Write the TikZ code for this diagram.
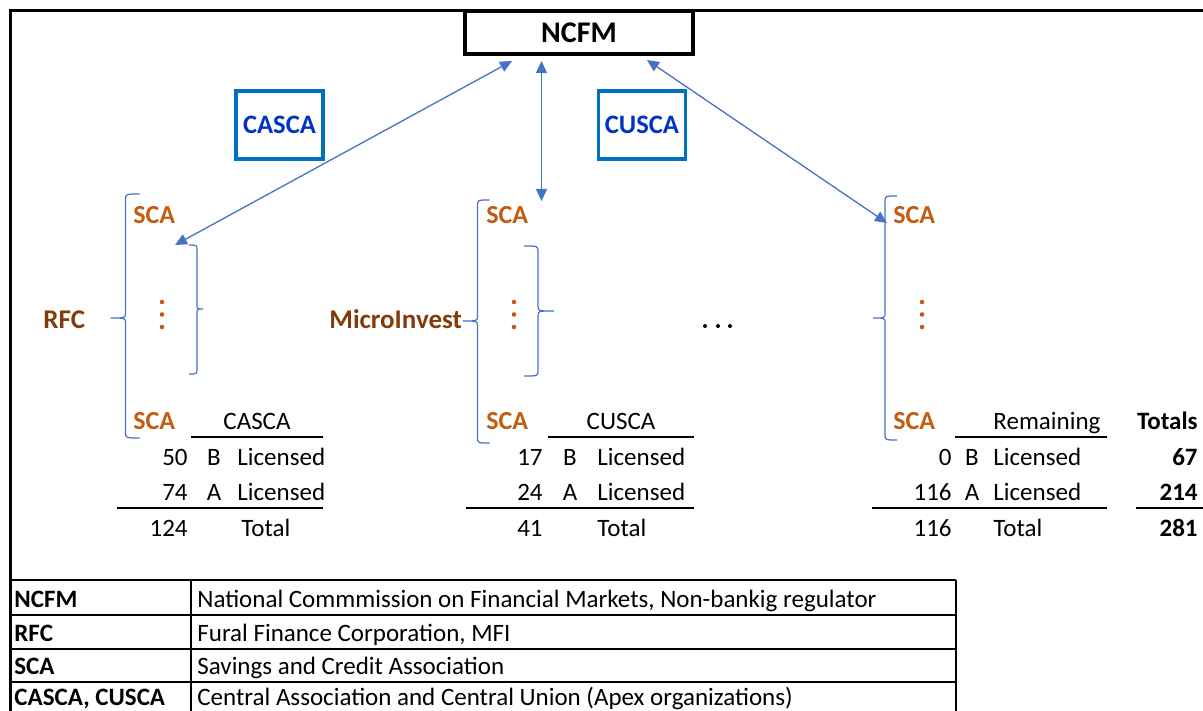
\documentclass[tikz,border=0pt]{standalone}
\usepackage{fontspec}
\setmainfont{Carlito}
\usetikzlibrary{arrows.meta}
\definecolor{linkblue}{RGB}{68,114,196}
\definecolor{boxblue}{RGB}{0,112,192}
\definecolor{apexblue}{RGB}{0,51,204}
\definecolor{scaorange}{RGB}{197,90,17}
\definecolor{mfibrown}{RGB}{132,60,12}
\def\curlybrace(#1,#2,#3,#4)(#5,#6){\draw[brace] ({#1+#5},#2) .. controls (#1,#2) .. (#1,{#2+6}) -- (#1,{#3-5}) .. controls (#1,#3) .. ({#1-#6},#3) .. controls (#1,#3) .. (#1,{#3+5}) -- (#1,{#4-6}) .. controls (#1,#4) .. ({#1+#5},#4);}
\tikzset{
	link/.style={draw=linkblue, line width=0.65pt, {Triangle[length=6pt,width=5.5pt]}-{Triangle[length=6pt,width=5.5pt]}},
	brace/.style={draw=linkblue, line width=0.6pt},
	apex/.style={draw=boxblue, line width=1.6pt, text=apexblue, font=\fontsize{13.3}{15}\selectfont\bfseries, minimum width=43.5pt, minimum height=34pt, inner sep=0},
	sca/.style={text=scaorange, font=\fontsize{13}{15}\selectfont\bfseries, inner sep=0, anchor=base west},
	mfi/.style={text=mfibrown, font=\fontsize{13.5}{15}\selectfont\bfseries, inner sep=0, anchor=base west},
	num/.style={font=\fontsize{12.5}{15}\selectfont, inner sep=0, anchor=base east},
	txt/.style={font=\fontsize{12.5}{15}\selectfont, inner sep=0, anchor=base west},
	ctr/.style={font=\fontsize{12.5}{15}\selectfont, inner sep=0, anchor=base},
	rule/.style={line width=1.1pt},
}
\begin{document}
\begin{tikzpicture}[x=0.5pt, y=-0.5pt]
			%%%%% START %%%%%
			\useasboundingbox (0,0) rectangle (1203,711);
			\draw[line width=1.5pt] (1203,11) -- (10,11) -- (10,711);
			
			\node[draw, line width=1.75pt, minimum width=114pt, minimum height=21.5pt, inner sep=0, font=\fontsize{15}{17}\selectfont\bfseries] (ncfm) at (579,32.5) {NCFM};
			\node[apex] (casca) at (279.5,125) {CASCA};
			\node[apex] (cusca) at (642,125) {CUSCA};
			
			% arrow ends
			\coordinate (ncfmL) at (512,61);
			\coordinate (ncfmM) at (541.5,61);
			\coordinate (ncfmR) at (647,60);
			\coordinate (rfcIn) at (175,245);
			\coordinate (micIn) at (541.5,201);
			\coordinate (remIn) at (887,223);
			\draw[link] (ncfmL) -- (rfcIn);
			\draw[link] (ncfmM) -- (micIn);
			\draw[link] (ncfmR) -- (remIn);
			
			% groups of SCA
			\node[mfi] (rfc) at (43,328) {RFC};
			\node[mfi] (micro) at (329,328) {MicroInvest};
			\node[sca] (sca1a) at (133,224) {SCA};
			\node[sca] (sca1b) at (133,429) {SCA};
			\node[sca] (sca2a) at (486,224) {SCA};
			\node[sca] (sca2b) at (486,429) {SCA};
			\node[sca] (sca3a) at (893,224) {SCA};
			\node[sca] (sca3b) at (893,429) {SCA};
			
			\curlybrace(125.5,194,318,438)(14,15)
			\curlybrace(197,245,309,374)(-8,-6)
			\curlybrace(477.5,200,321,443)(12,15)
			\curlybrace(538,246,311,376)(-14,-16)
			\curlybrace(885,196,318,440)(12,12)
			
			\foreach \x in {162,514,922}
				\foreach \y in {302,314.5,327}
					\fill[scaorange] (\x,\y) circle (2.3);
			\foreach \x in {705,718,730}
				\fill (\x,326) circle (2);
			
			% CASCA table
			\node[ctr] (h1) at (257,429) {CASCA};
			\node[num] (b1) at (188,465) {50};
			\node[ctr] at (214,465) {B};
			\node[txt] at (237,465) {Licensed};
			\node[num] (a1) at (188,500) {74};
			\node[ctr] at (214,500) {A};
			\node[txt] at (237,500) {Licensed};
			\node[num] (t1) at (188,536) {124};
			\node[txt] at (241,536) {Total};
			\draw[rule] (191,437) -- (323,437);
			\draw[rule] (117,508) -- (323,508);
			
			% CUSCA table
			\node[ctr] (h2) at (621,429) {CUSCA};
			\node[num] (b2) at (543,465) {17};
			\node[ctr] at (570,465) {B};
			\node[txt] at (597,465) {Licensed};
			\node[num] (a2) at (543,500) {24};
			\node[ctr] at (570,500) {A};
			\node[txt] at (597,500) {Licensed};
			\node[num] (t2) at (543,536) {41};
			\node[txt] at (597,536) {Total};
			\draw[rule] (548,437) -- (694,437);
			\draw[rule] (466,508) -- (694,508);
			
			% remaining table
			\node[txt] (h3) at (993,429) {Remaining};
			\node[num] (b3) at (952,465) {0};
			\node[ctr] at (972,465) {B};
			\node[txt] at (993,465) {Licensed};
			\node[num] (a3) at (952,500) {116};
			\node[ctr] at (972,500) {A};
			\node[txt] at (993,500) {Licensed};
			\node[num] (t3) at (952,536) {116};
			\node[txt] at (993,536) {Total};
			\draw[rule] (955,437) -- (1107,437);
			\draw[rule] (872,508) -- (1107,508);
			
			\node[num, font=\fontsize{12.5}{15}\selectfont\bfseries] (h4) at (1198,429) {Totals};
			\node[num, font=\fontsize{12.5}{15}\selectfont\bfseries] (b4) at (1198,465) {67};
			\node[num, font=\fontsize{12.5}{15}\selectfont\bfseries] (a4) at (1198,500) {214};
			\node[num, font=\fontsize{12.5}{15}\selectfont\bfseries] (t4) at (1198,536) {281};
			\draw[rule] (1136,508) -- (1203,508);
			
			% legend
			\draw[rule] (10,580) -- (956,580);
			\draw[rule] (10,615) -- (956,615);
			\draw[rule] (10,649) -- (956,649);
			\draw[rule] (10,682) -- (956,682);
			\draw[rule] (191,580) -- (191,711);
			\draw[rule] (956,580) -- (956,711);
			
			\node[txt, font=\fontsize{12.5}{15}\selectfont\bfseries] at (14,607) {NCFM};
			\node[txt] at (197,607) {National Commmission on Financial Markets, Non-bankig regulator};
			\node[txt, font=\fontsize{12.5}{15}\selectfont\bfseries] at (14,641) {RFC};
			\node[txt] at (197,641) {Fural Finance Corporation, MFI};
			\node[txt, font=\fontsize{12.5}{15}\selectfont\bfseries] at (14,674) {SCA};
			\node[txt] at (197,674) {Savings and Credit Association};
			\node[txt, font=\fontsize{12.5}{15}\selectfont\bfseries] at (14,705) {CASCA, CUSCA};
			\node[txt] at (197,705) {Central Association and Central Union (Apex organizations)};
			%%%%% END %%%%%
\end{tikzpicture}
\end{document}
